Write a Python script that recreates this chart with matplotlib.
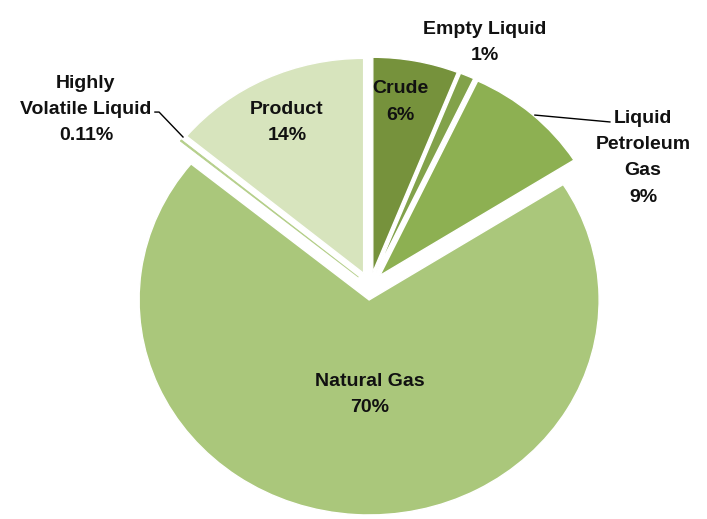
import matplotlib.pyplot as plt
import numpy as np

# shipment mix by commodity
names = ['Crude', 'Empty Liquid', 'Liquid\nPetroleum\nGas', 'Natural Gas',
         'Highly\nVolatile Liquid', 'Product']
shares = [6, 1, 9, 70, 0.11, 14]
pct_text = ['6%', '1%', '9%', '70%', '0.11%', '14%']
colors = ['#76923C', '#82A24A', '#8DB052', '#AAC77B', '#B5CF8A', '#D7E4BD']

# label anchors (data units, pie radius = 1)
label_xy = [(0.13, 0.856), (0.50, 1.131), (1.187, 0.596), (0.0, -0.504),
            (-1.235, 0.821), (-0.361, 0.761)]

plt.rcParams['font.family'] = ['Liberation Sans', 'DejaVu Sans']

fig = plt.figure(figsize=(7.07, 5.19), dpi=100)
ax = fig.add_axes([0, 0, 1, 1])

wedges, _ = ax.pie(shares, colors=colors, startangle=90, counterclock=False,
                   explode=[0.065] * len(shares), radius=1.0,
                   wedgeprops=dict(edgecolor='white', linewidth=1.0),
                   normalize=True)
# the tiny sliver would vanish under a white outline
wedges[4].set_edgecolor(colors[4])
wedges[4].set_linewidth(0.6)

for name, pct, (x, y) in zip(names, pct_text, label_xy):
    ax.text(x, y, name + '\n' + pct, ha='center', va='center',
            fontsize=14, fontweight='bold', color='#111111',
            linespacing=1.7)

# leader lines for the labels that sit outside their slices
ax.plot([0.717, 1.043], [0.795, 0.763], color='black', lw=1)
ax.plot([-0.935, -0.917, -0.813], [0.809, 0.809, 0.693], color='black', lw=1)

ax.set_aspect('auto')
ax.set_xlim(-370 / 230, (707 - 370) / 230)
ax.set_ylim(-(519 - 286) / 215, 286 / 215)
ax.axis('off')

fig.savefig('out.png', dpi=100, facecolor='white')
